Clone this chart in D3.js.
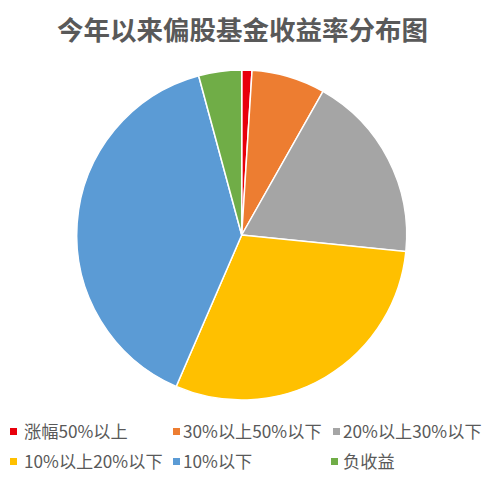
<!DOCTYPE html>
<html>
<head>
<meta charset="utf-8">
<script src="https://cdn.jsdelivr.net/npm/d3@7"></script>
<style>
  body { margin: 0; background: #fff; }
  svg { display: block; font-family: "Noto Sans CJK SC", "Noto Sans", sans-serif; }
</style>
</head>
<body>
<svg id="chart" width="491" height="481"></svg>
<script>
const title = '今年以来偏股基金收益率分布图';
const categories = ['涨幅50%以上', '30%以上50%以下', '20%以上30%以下', '10%以上20%以下', '10%以下', '负收益'];
const shares = [1.0, 7.2, 18.4, 29.9, 39.3, 4.2];
const colors = ['#E8000B', '#ED7D31', '#A5A5A5', '#FFC000', '#5B9BD5', '#70AD47'];

const width = 491;
const height = 481;
const cx = 241.7;
const cy = 235;
const radius = 165;

const svg = d3.select('#chart');

svg.append('text')
  .attr('x', 242.5)
  .attr('y', 40)
  .attr('text-anchor', 'middle')
  .attr('font-size', 26.5)
  .attr('font-weight', 'bold')
  .attr('fill', '#595959')
  .text(title);

const data = categories.map((name, i) => ({ name, value: shares[i], color: colors[i] }));

const pie = d3.pie().sort(null).value((d) => d.value);
const arc = d3.arc().innerRadius(0).outerRadius(radius);

svg.append('g')
  .attr('transform', `translate(${cx},${cy})`)
  .selectAll('path')
  .data(pie(data))
  .join('path')
  .attr('d', arc)
  .attr('fill', (d) => d.data.color)
  .attr('stroke', '#fff')
  .attr('stroke-width', 1.5);

// legend, 3 columns x 2 rows
const marker_x = [10, 173, 333, 10, 173, 331];
const text_x = [24, 183, 343, 24, 183, 343];
const row_y = d3.scaleOrdinal([0, 1], [431.5, 461.5]);

const item = svg.append('g')
  .selectAll('g')
  .data(data)
  .join('g')
  .attr('transform', (d, i) => `translate(0,${row_y(Math.floor(i / 3))})`);

item.append('rect')
  .attr('x', (d, i) => marker_x[i])
  .attr('y', -3.5)
  .attr('width', 7)
  .attr('height', 7)
  .attr('fill', (d) => d.color);

item.append('text')
  .attr('x', (d, i) => text_x[i])
  .attr('y', 0)
  .attr('dy', '0.35em')
  .attr('font-size', 17.2)
  .attr('fill', '#595959')
  .text((d) => d.name);
</script>
</body>
</html>
